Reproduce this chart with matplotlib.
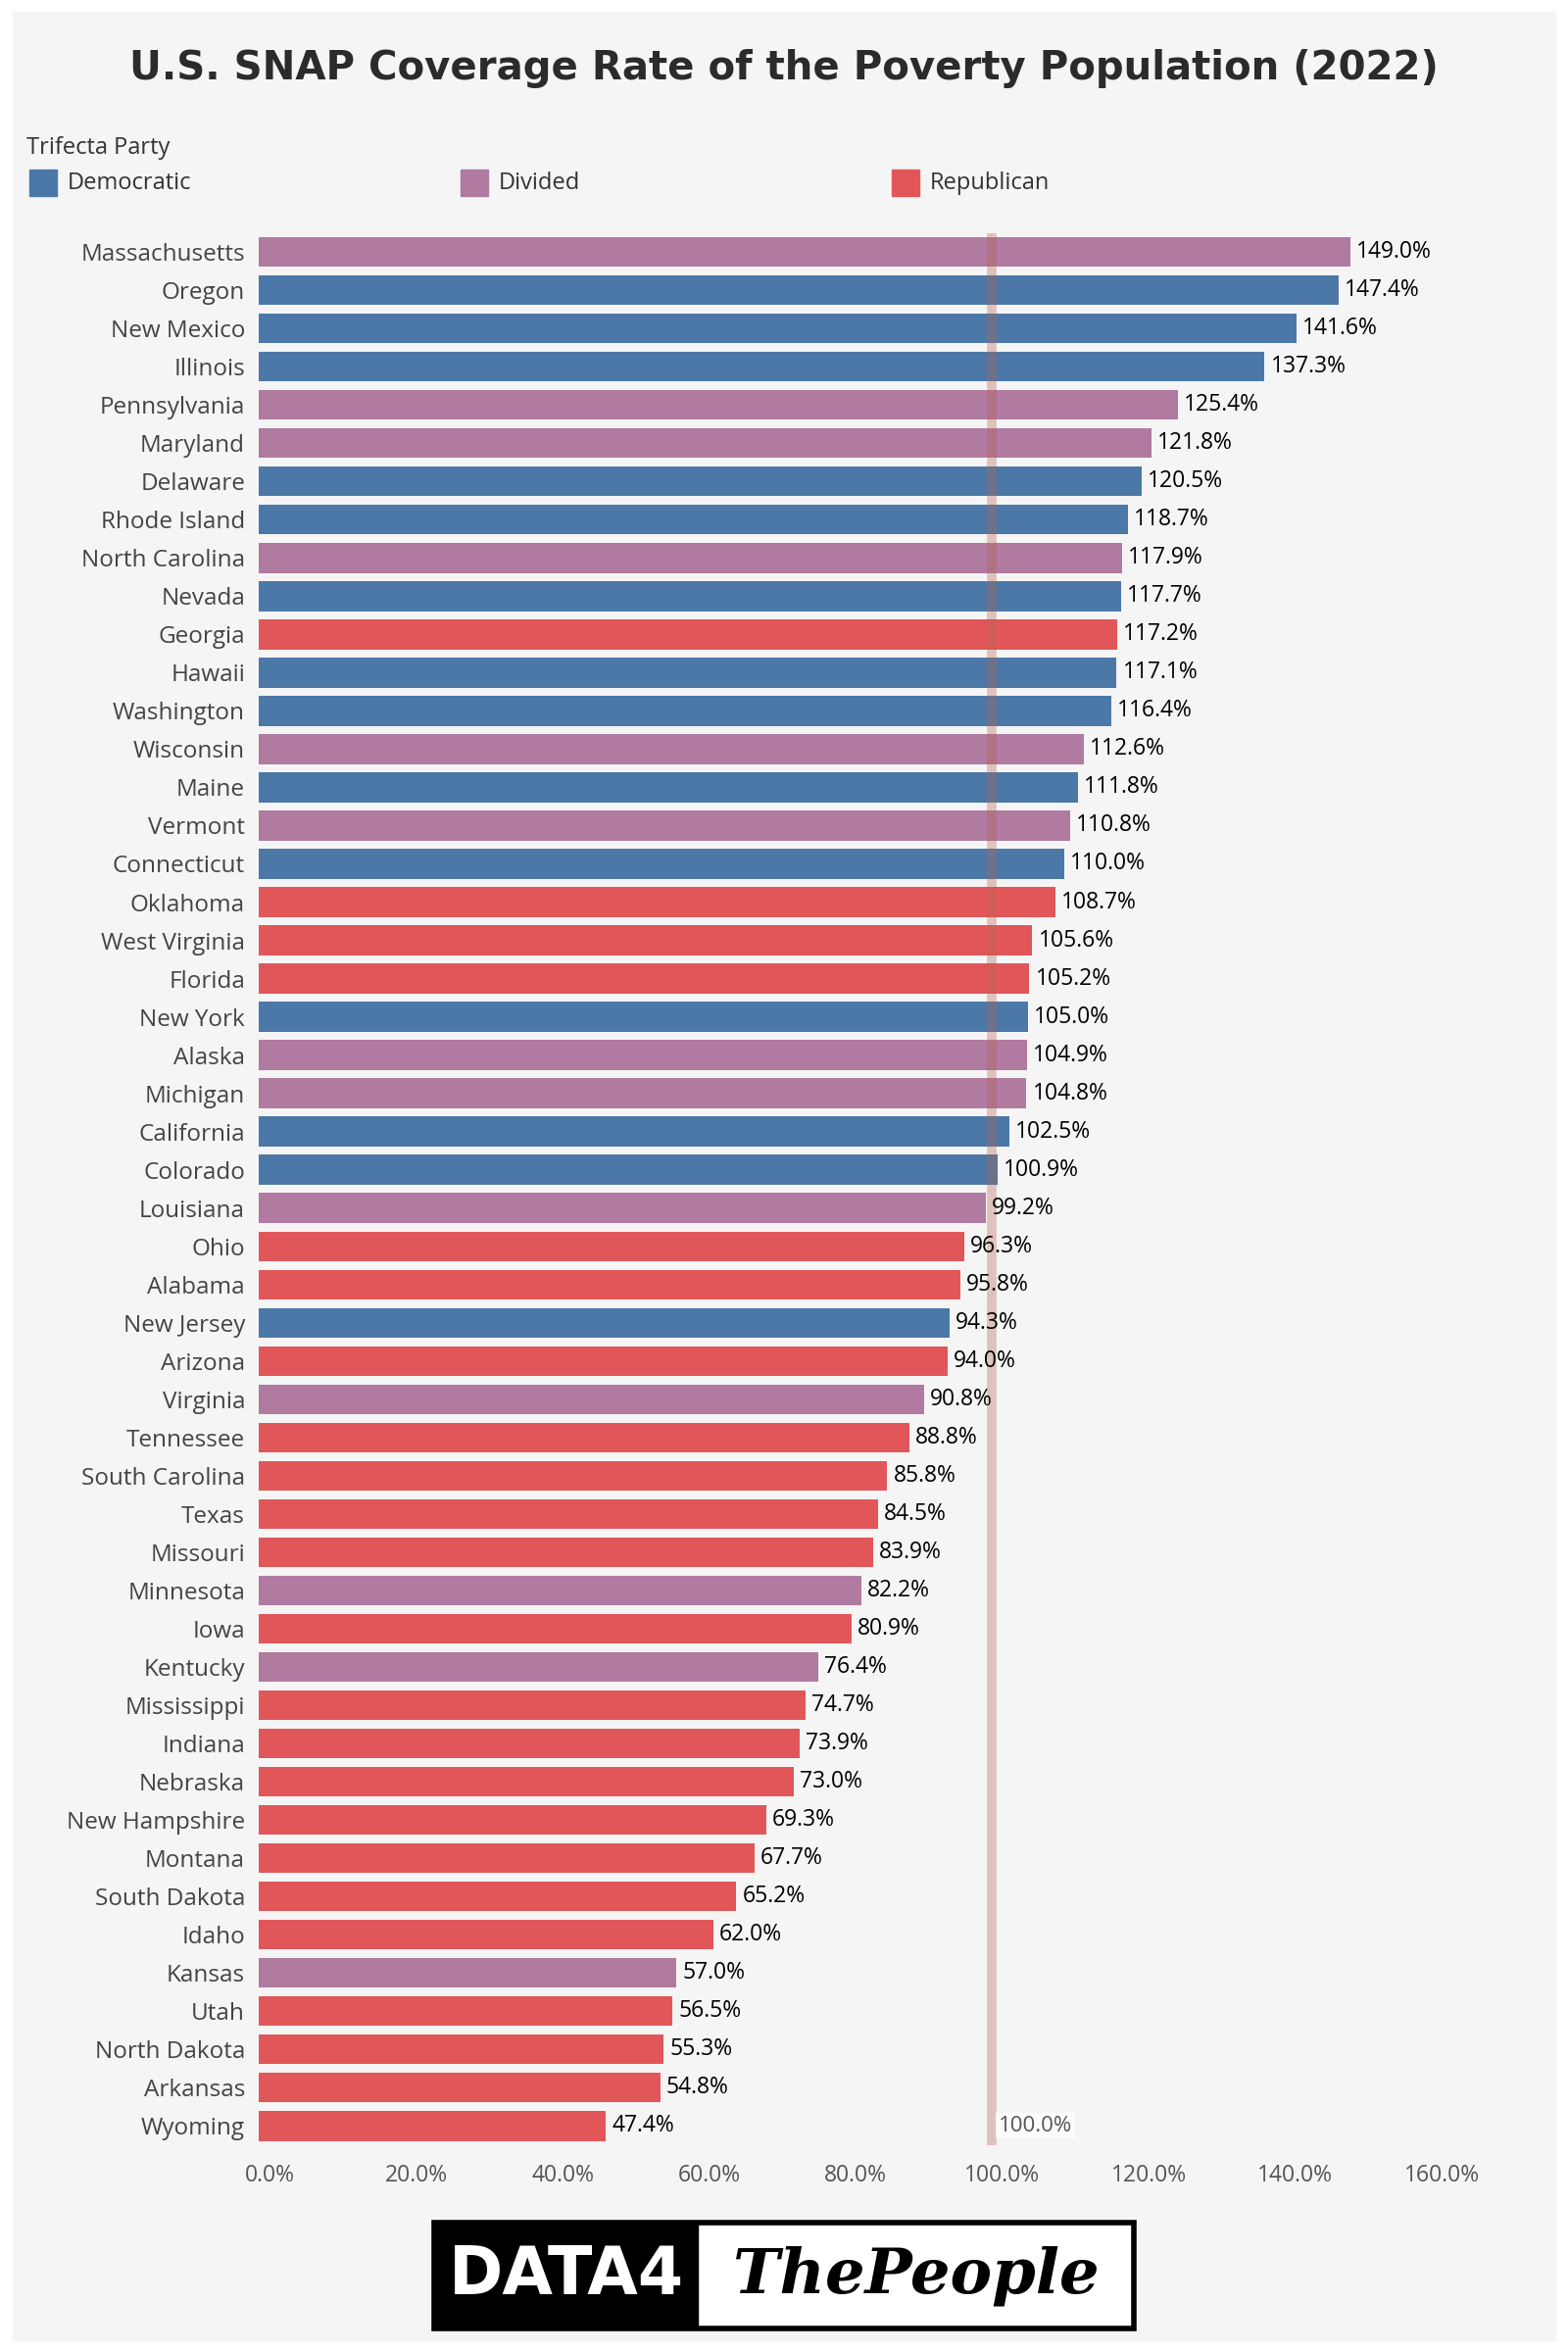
import matplotlib.pyplot as plt
from matplotlib.patches import Rectangle
from matplotlib import font_manager

states = ["Massachusetts", "Oregon", "New Mexico", "Illinois", "Pennsylvania", "Maryland",
          "Delaware", "Rhode Island", "North Carolina", "Nevada", "Georgia", "Hawaii",
          "Washington", "Wisconsin", "Maine", "Vermont", "Connecticut", "Oklahoma",
          "West Virginia", "Florida", "New York", "Alaska", "Michigan", "California",
          "Colorado", "Louisiana", "Ohio", "Alabama", "New Jersey", "Arizona", "Virginia",
          "Tennessee", "South Carolina", "Texas", "Missouri", "Minnesota", "Iowa",
          "Kentucky", "Mississippi", "Indiana", "Nebraska", "New Hampshire", "Montana",
          "South Dakota", "Idaho", "Kansas", "Utah", "North Dakota", "Arkansas", "Wyoming"]
rates = [149.0, 147.4, 141.6, 137.3, 125.4, 121.8, 120.5, 118.7, 117.9, 117.7, 117.2,
         117.1, 116.4, 112.6, 111.8, 110.8, 110.0, 108.7, 105.6, 105.2, 105.0, 104.9,
         104.8, 102.5, 100.9, 99.2, 96.3, 95.8, 94.3, 94.0, 90.8, 88.8, 85.8, 84.5, 83.9,
         82.2, 80.9, 76.4, 74.7, 73.9, 73.0, 69.3, 67.7, 65.2, 62.0, 57.0, 56.5, 55.3,
         54.8, 47.4]
party = ["V", "D", "D", "D", "V", "V", "D", "D", "V", "D", "R", "D", "D", "V", "D", "V",
         "D", "R", "R", "R", "D", "V", "V", "D", "D", "V", "R", "R", "D", "R", "V", "R",
         "R", "R", "R", "V", "R", "V", "R", "R", "R", "R", "R", "R", "R", "V", "R", "R",
         "R", "R"]
party_names = {"D": "Democratic", "V": "Divided", "R": "Republican"}
colors = {"D": "#4c78a8", "V": "#b07aa1", "R": "#e15759"}
ticks = [0, 20, 40, 60, 80, 100, 120, 140, 160]

plt.rcParams['font.family'] = ['Open Sans', 'DejaVu Sans']
names = {f.name for f in font_manager.fontManager.ttflist}
title_font = 'DejaVu Sans Condensed' if 'DejaVu Sans Condensed' in names else 'DejaVu Sans'
title_size = 36 if title_font != 'DejaVu Sans' else 29

fig = plt.figure(figsize=(16, 24), dpi=100, facecolor="white")
fig.patches.append(Rectangle((0.008, 0.005), 0.984, 0.99, transform=fig.transFigure,
                             color="#f5f5f5", zorder=-10))

ax = fig.add_axes([0.165, 0.088, 0.792, 0.813])
ax.set_facecolor("#f5f5f5")
y = list(range(len(states)))
ax.barh(y, rates, height=0.78, color=[colors[p] for p in party], zorder=2)
for yi, r in zip(y, rates):
    ax.text(r + 0.8, yi, f"{r:.1f}%", va="center", ha="left", fontsize=16.5, color="black", zorder=4)
ax.axvline(100, color="#b5654f", lw=7, alpha=0.35, zorder=3)
ax.text(101, len(states) - 1, "100.0%", va="center", ha="left", fontsize=16, color="#555555",
        bbox=dict(facecolor="white", edgecolor="none", pad=2, alpha=0.8), zorder=5)
ax.set_ylim(len(states) - 0.5, -0.5)
ax.set_xlim(0, 169.5)
ax.set_yticks(y)
ax.set_yticklabels(states, fontsize=17.5, color="#444444")
ax.set_xticks([t + 1.5 for t in ticks])
ax.set_xticklabels([f"{t:.1f}%" for t in ticks], fontsize=16.5, color="#555555")
ax.tick_params(length=0, axis="y", pad=10)
ax.tick_params(length=0, axis="x", pad=14)
for s in ax.spines.values():
    s.set_visible(False)

fig.text(0.5, 0.971, "U.S. SNAP Coverage Rate of the Poverty Population (2022)", ha="center",
         va="center", fontsize=title_size, fontweight="bold", color="#2b2b2b", family=title_font)
fig.text(0.017, 0.937, "Trifecta Party", fontsize=17, color="#333333", va="center")
for x0, key in zip([0.019, 0.294, 0.569], ["D", "V", "R"]):
    fig.patches.append(Rectangle((x0, 0.9165), 0.017, 0.0115, transform=fig.transFigure,
                                 color=colors[key]))
    fig.text(x0 + 0.024, 0.922, party_names[key], fontsize=17, color="#333333", va="center")

# logo
fig.patches.append(Rectangle((0.277, 0.010), 0.446, 0.045, transform=fig.transFigure,
                             facecolor="white", edgecolor="black", lw=4))
fig.patches.append(Rectangle((0.277, 0.010), 0.168, 0.045, transform=fig.transFigure,
                             color="black"))
fig.text(0.361, 0.0325, "DATA4", ha="center", va="center", fontsize=48, fontweight="bold",
         color="white", family=title_font)
fig.text(0.584, 0.0325, "ThePeople", ha="center", va="center", fontsize=46, fontstyle="italic",
         fontweight="bold", color="black", family=['DejaVu Serif'])

fig.savefig("out.png", dpi=100, facecolor="white")
